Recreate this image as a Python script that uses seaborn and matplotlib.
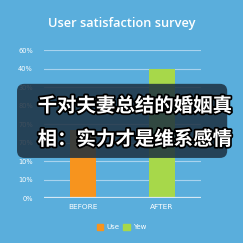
import matplotlib
matplotlib.use("Agg")
import matplotlib.pyplot as plt
import seaborn as sns
import pandas as pd
import matplotlib.patheffects as pe
from matplotlib.patches import FancyBboxPatch, Rectangle

categories = ["BEFORE", "AFTER"]
series = ["Use", "Yew"]
values = [18.5, 35.0]
tick_positions = [0, 5, 10, 15, 20, 25, 30, 35, 40]
tick_labels = ["0%", "10%", "10%", "70%", "70%", "80%", "30%", "40%", "60%"]
title = "User satisfaction survey"
overlay_lines = ["千对夫妻总结的婚姻真", "相：实力才是维系感情"]

BG = "#5aaedc"
colors = ["#f7941e", "#a7d84a"]

df = pd.DataFrame({"category": categories, "value": values, "series": series})

fig = plt.figure(figsize=(2.43, 2.43), dpi=100, facecolor=BG)
ax = fig.add_axes([0.181, 0.185, 0.646, 0.609])
ax.set_facecolor(BG)

sns.barplot(data=df, x="category", y="value", hue="series", palette=colors,
            dodge=False, width=0.33, saturation=1, ax=ax, legend=False, zorder=3)
ax.set_xlim(-0.5, 1.5)
ax.set_ylim(0, 40)
ax.set_yticks(tick_positions)
ax.set_yticklabels(tick_labels)
for t in tick_positions[1:]:
    ax.axhline(t, color="#a9d3ee", lw=0.8, zorder=1)
ax.axhline(0, color="#d6e8f4", lw=1.6, zorder=4)
for s in ax.spines.values():
    s.set_visible(False)
ax.tick_params(axis="both", length=0, colors="white", labelsize=4.8, pad=8)
ax.tick_params(axis="x", labelsize=5.3, pad=4)
ax.set_xlabel("")
ax.set_ylabel("")

fig.text(0.5, 0.905, title, ha="center", va="center", color="white",
         fontsize=9.2, fontweight="semibold", family=["Open Sans", "DejaVu Sans"])

# legend
handles = [Rectangle((0, 0), 1, 1, color=c) for c in colors]
fig.legend(handles, series, loc="center", bbox_to_anchor=(0.5, 0.066), ncol=2,
           frameon=False, fontsize=5, labelcolor="white", handlelength=1.0,
           handleheight=1.0, handletextpad=0.4, columnspacing=0.6)

# overlay
box = FancyBboxPatch((0.07, 0.35), 0.865, 0.305, boxstyle="round,pad=0,rounding_size=0.03",
                     transform=fig.transFigure, facecolor="#1c2f40", alpha=0.85,
                     edgecolor="none", zorder=10)
fig.patches.append(box)
for i, line in enumerate(overlay_lines):
    fig.text(0.556, 0.563 - i * 0.137, line, ha="center", va="center", color="white",
             fontsize=14, fontweight="bold", family=["Noto Sans CJK SC", "DejaVu Sans"],
             zorder=11,
             path_effects=[pe.withStroke(linewidth=2.5, foreground="black")])

fig.savefig("out.png", dpi=100, facecolor=BG)
